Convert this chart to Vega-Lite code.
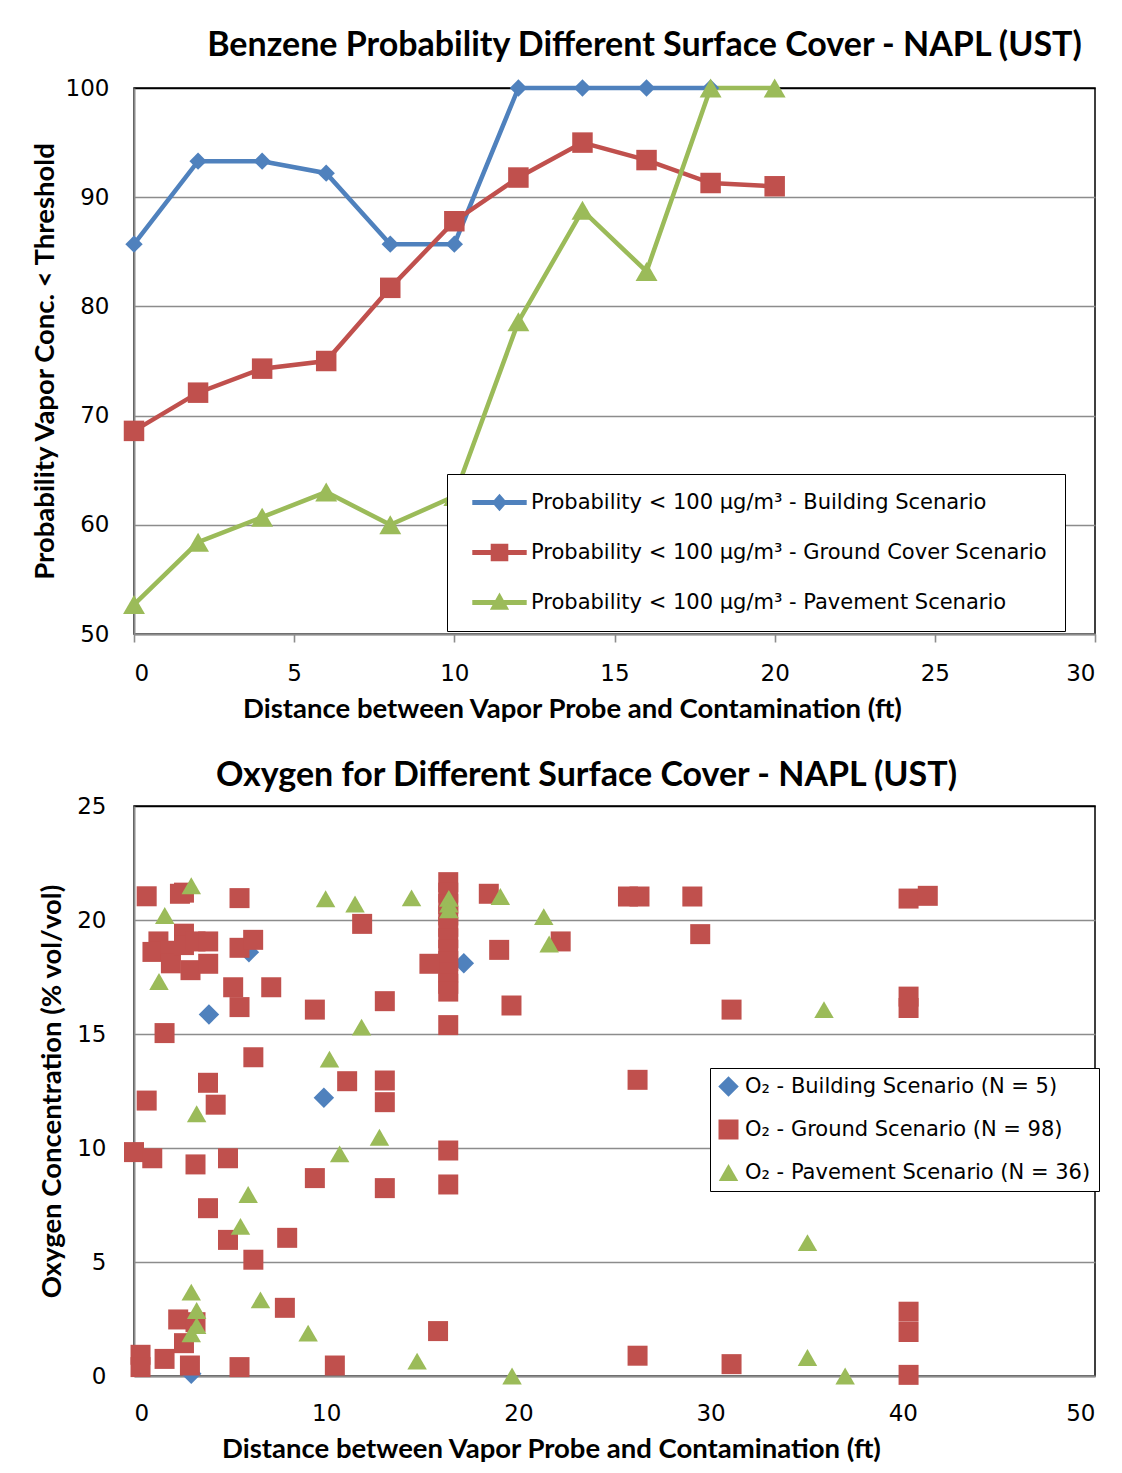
{
  "$schema": "https://vega.github.io/schema/vega-lite/v6.json",
  "background": "white",
  "padding": {"left": 30, "top": 28, "right": 5, "bottom": 5},
  "spacing": 34,
  "resolve": {"scale": {"color": "independent", "shape": "independent", "size": "independent"}},
  "config": {
    "view": {"stroke": "#000", "strokeWidth": 1.5},
    "axis": {
      "labelFont": "DejaVu Sans", "labelFontSize": 23, "labelColor": "#000",
      "titleFont": "Lato", "titleFontSize": 27.5, "titleFontWeight": "bold", "titleColor": "#000",
      "domainColor": "#8c8c8c", "domainWidth": 2,
      "gridColor": "#8c8c8c", "gridWidth": 1.6, "gridOpacity": 1,
      "tickColor": "#8c8c8c", "tickWidth": 1.6
    },
    "axisX": {"grid": false},
    "title": {"font": "Lato", "fontSize": 34, "fontWeight": "bold", "color": "#000", "anchor": "middle"},
    "legend": {"labelFont": "DejaVu Sans", "labelColor": "#000", "fillColor": "white", "strokeColor": "black", "labelLimit": 0, "symbolStrokeWidth": 0}
  },
  "vconcat": [
    {
      "width": 961,
      "height": 546,
      "title": {"text": "Benzene Probability Different Surface Cover - NAPL (UST)", "dx": 30, "offset": 14},
      "data": {"values": [
        {"s": "Probability < 100 µg/m³ - Building Scenario", "d": 0, "p": 85.7},
        {"s": "Probability < 100 µg/m³ - Building Scenario", "d": 2, "p": 93.3},
        {"s": "Probability < 100 µg/m³ - Building Scenario", "d": 4, "p": 93.3},
        {"s": "Probability < 100 µg/m³ - Building Scenario", "d": 6, "p": 92.2},
        {"s": "Probability < 100 µg/m³ - Building Scenario", "d": 8, "p": 85.7},
        {"s": "Probability < 100 µg/m³ - Building Scenario", "d": 10, "p": 85.7},
        {"s": "Probability < 100 µg/m³ - Building Scenario", "d": 12, "p": 100},
        {"s": "Probability < 100 µg/m³ - Building Scenario", "d": 14, "p": 100},
        {"s": "Probability < 100 µg/m³ - Building Scenario", "d": 16, "p": 100},
        {"s": "Probability < 100 µg/m³ - Building Scenario", "d": 18, "p": 100},
        {"s": "Probability < 100 µg/m³ - Ground Cover Scenario", "d": 0, "p": 68.6},
        {"s": "Probability < 100 µg/m³ - Ground Cover Scenario", "d": 2, "p": 72.1},
        {"s": "Probability < 100 µg/m³ - Ground Cover Scenario", "d": 4, "p": 74.3},
        {"s": "Probability < 100 µg/m³ - Ground Cover Scenario", "d": 6, "p": 75.0},
        {"s": "Probability < 100 µg/m³ - Ground Cover Scenario", "d": 8, "p": 81.7},
        {"s": "Probability < 100 µg/m³ - Ground Cover Scenario", "d": 10, "p": 87.8},
        {"s": "Probability < 100 µg/m³ - Ground Cover Scenario", "d": 12, "p": 91.8},
        {"s": "Probability < 100 µg/m³ - Ground Cover Scenario", "d": 14, "p": 95.0},
        {"s": "Probability < 100 µg/m³ - Ground Cover Scenario", "d": 16, "p": 93.4},
        {"s": "Probability < 100 µg/m³ - Ground Cover Scenario", "d": 18, "p": 91.3},
        {"s": "Probability < 100 µg/m³ - Ground Cover Scenario", "d": 20, "p": 91.0},
        {"s": "Probability < 100 µg/m³ -  Pavement Scenario", "d": 0, "p": 52.7},
        {"s": "Probability < 100 µg/m³ -  Pavement Scenario", "d": 2, "p": 58.4},
        {"s": "Probability < 100 µg/m³ -  Pavement Scenario", "d": 4, "p": 60.7},
        {"s": "Probability < 100 µg/m³ -  Pavement Scenario", "d": 6, "p": 63.0},
        {"s": "Probability < 100 µg/m³ -  Pavement Scenario", "d": 8, "p": 60.0},
        {"s": "Probability < 100 µg/m³ -  Pavement Scenario", "d": 10, "p": 62.6},
        {"s": "Probability < 100 µg/m³ -  Pavement Scenario", "d": 12, "p": 78.6},
        {"s": "Probability < 100 µg/m³ -  Pavement Scenario", "d": 14, "p": 88.8},
        {"s": "Probability < 100 µg/m³ -  Pavement Scenario", "d": 16, "p": 83.2},
        {"s": "Probability < 100 µg/m³ -  Pavement Scenario", "d": 18, "p": 100},
        {"s": "Probability < 100 µg/m³ -  Pavement Scenario", "d": 20, "p": 100}
      ]},
      "encoding": {
        "x": {"field": "d", "type": "quantitative", "scale": {"domain": [0, 30], "nice": false},
          "axis": {"values": [0, 5, 10, 15, 20, 25, 30], "title": "Distance between Vapor Probe and Contamination (ft)", "ticks": true, "tickSize": 8, "labelPadding": 20, "titlePadding": 10, "titleX": 438}},
        "y": {"field": "p", "type": "quantitative", "scale": {"domain": [50, 100], "nice": false, "zero": false},
          "axis": {"values": [50, 60, 70, 80, 90, 100], "title": "Probability Vapor Conc. < Threshold", "grid": true, "ticks": false, "labelPadding": 25, "titlePadding": 6,
            "gridColor": {"condition": {"test": "datum.value == 100", "value": "#000000"}, "value": "#8c8c8c"}}}
      },
      "resolve": {"scale": {"color": "independent", "shape": "independent"}},
      "layer": [
        {
          "mark": {"type": "line", "strokeWidth": 4.5},
          "encoding": {"color": {"field": "s", "type": "nominal", "legend": null,
            "scale": {"domain": ["Probability < 100 µg/m³ - Building Scenario", "Probability < 100 µg/m³ - Ground Cover Scenario", "Probability < 100 µg/m³ -  Pavement Scenario"], "range": ["#4F81BD", "#C0504D", "#9BBB59"]}}}
        },
        {
          "transform": [{"filter": {"field": "s", "equal": "Probability < 100 µg/m³ - Building Scenario"}}],
          "mark": {"type": "point", "filled": true, "opacity": 1, "shape": "diamond", "size": 300},
          "encoding": {"color": {"field": "s", "type": "nominal", "legend": null,
            "scale": {"domain": ["Probability < 100 µg/m³ - Building Scenario", "Probability < 100 µg/m³ - Ground Cover Scenario", "Probability < 100 µg/m³ -  Pavement Scenario"], "range": ["#4F81BD", "#C0504D", "#9BBB59"]}}}
        },
        {
          "transform": [{"filter": {"field": "s", "equal": "Probability < 100 µg/m³ - Ground Cover Scenario"}}],
          "mark": {"type": "point", "filled": true, "opacity": 1, "shape": "square", "size": 420},
          "encoding": {"color": {"field": "s", "type": "nominal", "legend": null,
            "scale": {"domain": ["Probability < 100 µg/m³ - Building Scenario", "Probability < 100 µg/m³ - Ground Cover Scenario", "Probability < 100 µg/m³ -  Pavement Scenario"], "range": ["#4F81BD", "#C0504D", "#9BBB59"]}}}
        },
        {
          "transform": [{"filter": {"field": "s", "equal": "Probability < 100 µg/m³ -  Pavement Scenario"}}],
          "mark": {"type": "point", "filled": true, "opacity": 1, "shape": "triangle-up", "size": 480},
          "encoding": {"color": {"field": "s", "type": "nominal", "legend": null,
            "scale": {"domain": ["Probability < 100 µg/m³ - Building Scenario", "Probability < 100 µg/m³ - Ground Cover Scenario", "Probability < 100 µg/m³ -  Pavement Scenario"], "range": ["#4F81BD", "#C0504D", "#9BBB59"]}}}
        },
        {
          "mark": {"type": "point", "filled": true, "opacity": 0},
          "encoding": {
            "color": {"field": "s", "type": "nominal",
              "scale": {"domain": ["Probability < 100 µg/m³ - Building Scenario", "Probability < 100 µg/m³ - Ground Cover Scenario", "Probability < 100 µg/m³ -  Pavement Scenario"], "range": ["#4F81BD", "#C0504D", "#9BBB59"]},
              "legend": {"title": null, "orient": "none", "legendX": 313, "legendY": 386, "padding": 18, "symbolSize": 256, "symbolOpacity": 1, "symbolOffset": 24, "labelOffset": 21, "labelFontSize": 21, "rowPadding": 28}},
            "shape": {"field": "s", "type": "nominal",
              "scale": {"domain": ["Probability < 100 µg/m³ - Building Scenario", "Probability < 100 µg/m³ - Ground Cover Scenario", "Probability < 100 µg/m³ -  Pavement Scenario"],
                "range": [
                  "M-3.4,-0.3L3.4,-0.3L3.4,0.3L-3.4,0.3Z M0,-1.1L0.95,0L0,1.1L-0.95,0Z",
                  "M-3.4,-0.3L3.4,-0.3L3.4,0.3L-3.4,0.3Z M-1.1,-1.1L1.1,-1.1L1.1,1.1L-1.1,1.1Z",
                  "M-3.4,-0.3L3.4,-0.3L3.4,0.3L-3.4,0.3Z M0,-1.25L1.2,0.9L-1.2,0.9Z"
                ]},
              "legend": {"title": null, "orient": "none", "legendX": 313, "legendY": 386, "padding": 18, "symbolSize": 256, "symbolOpacity": 1, "symbolOffset": 24, "labelOffset": 21, "labelFontSize": 21, "rowPadding": 28}}
          }
        }
      ]
    },
    {
      "width": 961,
      "height": 570,
      "title": {"text": "Oxygen for Different Surface Cover - NAPL (UST)", "dx": -28, "offset": 2},
      "data": {"values": [
        {"s": "O₂ - Building Scenario (N = 5)", "d": 3.9, "o": 15.86},
        {"s": "O₂ - Building Scenario (N = 5)", "d": 9.88, "o": 12.2},
        {"s": "O₂ - Building Scenario (N = 5)", "d": 5.98, "o": 18.59},
        {"s": "O₂ - Building Scenario (N = 5)", "d": 17.16, "o": 18.1},
        {"s": "O₂ - Building Scenario (N = 5)", "d": 2.98, "o": 0.1},
        {"s": "O₂ - Ground Scenario (N = 98)", "d": 0.66, "o": 21.04},
        {"s": "O₂ - Ground Scenario (N = 98)", "d": 2.39, "o": 21.15},
        {"s": "O₂ - Ground Scenario (N = 98)", "d": 2.6, "o": 21.2},
        {"s": "O₂ - Ground Scenario (N = 98)", "d": 5.49, "o": 20.96},
        {"s": "O₂ - Ground Scenario (N = 98)", "d": 1.27, "o": 19.06},
        {"s": "O₂ - Ground Scenario (N = 98)", "d": 0.96, "o": 18.6},
        {"s": "O₂ - Ground Scenario (N = 98)", "d": 1.9, "o": 18.65},
        {"s": "O₂ - Ground Scenario (N = 98)", "d": 1.92, "o": 18.1},
        {"s": "O₂ - Ground Scenario (N = 98)", "d": 2.6, "o": 19.4},
        {"s": "O₂ - Ground Scenario (N = 98)", "d": 2.6, "o": 18.9},
        {"s": "O₂ - Ground Scenario (N = 98)", "d": 2.94, "o": 17.8},
        {"s": "O₂ - Ground Scenario (N = 98)", "d": 3.2, "o": 19.06},
        {"s": "O₂ - Ground Scenario (N = 98)", "d": 3.86, "o": 19.06},
        {"s": "O₂ - Ground Scenario (N = 98)", "d": 3.86, "o": 18.08},
        {"s": "O₂ - Ground Scenario (N = 98)", "d": 5.49, "o": 18.78},
        {"s": "O₂ - Ground Scenario (N = 98)", "d": 6.2, "o": 19.13},
        {"s": "O₂ - Ground Scenario (N = 98)", "d": 5.16, "o": 17.05},
        {"s": "O₂ - Ground Scenario (N = 98)", "d": 7.14, "o": 17.05},
        {"s": "O₂ - Ground Scenario (N = 98)", "d": 5.49, "o": 16.18},
        {"s": "O₂ - Ground Scenario (N = 98)", "d": 9.41, "o": 16.07},
        {"s": "O₂ - Ground Scenario (N = 98)", "d": 1.59, "o": 15.04},
        {"s": "O₂ - Ground Scenario (N = 98)", "d": 6.21, "o": 13.98},
        {"s": "O₂ - Ground Scenario (N = 98)", "d": 3.85, "o": 12.86},
        {"s": "O₂ - Ground Scenario (N = 98)", "d": 4.25, "o": 11.9},
        {"s": "O₂ - Ground Scenario (N = 98)", "d": 0.66, "o": 12.08},
        {"s": "O₂ - Ground Scenario (N = 98)", "d": 11.09, "o": 12.93},
        {"s": "O₂ - Ground Scenario (N = 98)", "d": 16.35, "o": 21.66},
        {"s": "O₂ - Ground Scenario (N = 98)", "d": 16.35, "o": 21.2},
        {"s": "O₂ - Ground Scenario (N = 98)", "d": 16.35, "o": 20.7},
        {"s": "O₂ - Ground Scenario (N = 98)", "d": 16.35, "o": 20.2},
        {"s": "O₂ - Ground Scenario (N = 98)", "d": 16.35, "o": 19.7},
        {"s": "O₂ - Ground Scenario (N = 98)", "d": 16.35, "o": 19.2},
        {"s": "O₂ - Ground Scenario (N = 98)", "d": 16.35, "o": 18.7},
        {"s": "O₂ - Ground Scenario (N = 98)", "d": 16.35, "o": 18.2},
        {"s": "O₂ - Ground Scenario (N = 98)", "d": 16.35, "o": 17.7},
        {"s": "O₂ - Ground Scenario (N = 98)", "d": 16.35, "o": 17.2},
        {"s": "O₂ - Ground Scenario (N = 98)", "d": 16.35, "o": 16.86},
        {"s": "O₂ - Ground Scenario (N = 98)", "d": 16.35, "o": 15.39},
        {"s": "O₂ - Ground Scenario (N = 98)", "d": 15.37, "o": 18.08},
        {"s": "O₂ - Ground Scenario (N = 98)", "d": 11.87, "o": 19.83},
        {"s": "O₂ - Ground Scenario (N = 98)", "d": 18.46, "o": 21.15},
        {"s": "O₂ - Ground Scenario (N = 98)", "d": 19.0, "o": 18.69},
        {"s": "O₂ - Ground Scenario (N = 98)", "d": 22.2, "o": 19.06},
        {"s": "O₂ - Ground Scenario (N = 98)", "d": 19.64, "o": 16.25},
        {"s": "O₂ - Ground Scenario (N = 98)", "d": 13.05, "o": 16.44},
        {"s": "O₂ - Ground Scenario (N = 98)", "d": 13.05, "o": 12.96},
        {"s": "O₂ - Ground Scenario (N = 98)", "d": 13.05, "o": 12.01},
        {"s": "O₂ - Ground Scenario (N = 98)", "d": 0, "o": 9.82},
        {"s": "O₂ - Ground Scenario (N = 98)", "d": 0.95, "o": 9.55},
        {"s": "O₂ - Ground Scenario (N = 98)", "d": 3.2, "o": 9.28},
        {"s": "O₂ - Ground Scenario (N = 98)", "d": 4.89, "o": 9.55},
        {"s": "O₂ - Ground Scenario (N = 98)", "d": 9.41, "o": 8.68},
        {"s": "O₂ - Ground Scenario (N = 98)", "d": 3.85, "o": 7.36},
        {"s": "O₂ - Ground Scenario (N = 98)", "d": 4.89, "o": 5.97},
        {"s": "O₂ - Ground Scenario (N = 98)", "d": 7.97, "o": 6.06},
        {"s": "O₂ - Ground Scenario (N = 98)", "d": 6.21, "o": 5.1},
        {"s": "O₂ - Ground Scenario (N = 98)", "d": 7.85, "o": 2.99},
        {"s": "O₂ - Ground Scenario (N = 98)", "d": 2.3, "o": 2.48},
        {"s": "O₂ - Ground Scenario (N = 98)", "d": 3.2, "o": 2.36},
        {"s": "O₂ - Ground Scenario (N = 98)", "d": 2.6, "o": 1.44},
        {"s": "O₂ - Ground Scenario (N = 98)", "d": 0.34, "o": 0.93},
        {"s": "O₂ - Ground Scenario (N = 98)", "d": 0.34, "o": 0.39},
        {"s": "O₂ - Ground Scenario (N = 98)", "d": 1.59, "o": 0.75},
        {"s": "O₂ - Ground Scenario (N = 98)", "d": 2.91, "o": 0.46},
        {"s": "O₂ - Ground Scenario (N = 98)", "d": 5.49, "o": 0.39},
        {"s": "O₂ - Ground Scenario (N = 98)", "d": 10.45, "o": 0.46},
        {"s": "O₂ - Ground Scenario (N = 98)", "d": 16.35, "o": 9.89},
        {"s": "O₂ - Ground Scenario (N = 98)", "d": 16.35, "o": 8.4},
        {"s": "O₂ - Ground Scenario (N = 98)", "d": 13.05, "o": 8.24},
        {"s": "O₂ - Ground Scenario (N = 98)", "d": 15.82, "o": 1.97},
        {"s": "O₂ - Ground Scenario (N = 98)", "d": 25.7, "o": 21.03},
        {"s": "O₂ - Ground Scenario (N = 98)", "d": 26.3, "o": 21.03},
        {"s": "O₂ - Ground Scenario (N = 98)", "d": 29.05, "o": 21.03},
        {"s": "O₂ - Ground Scenario (N = 98)", "d": 29.46, "o": 19.38},
        {"s": "O₂ - Ground Scenario (N = 98)", "d": 31.09, "o": 16.07},
        {"s": "O₂ - Ground Scenario (N = 98)", "d": 26.2, "o": 12.99},
        {"s": "O₂ - Ground Scenario (N = 98)", "d": 40.3, "o": 20.94},
        {"s": "O₂ - Ground Scenario (N = 98)", "d": 41.3, "o": 21.06},
        {"s": "O₂ - Ground Scenario (N = 98)", "d": 40.3, "o": 16.64},
        {"s": "O₂ - Ground Scenario (N = 98)", "d": 40.3, "o": 16.14},
        {"s": "O₂ - Ground Scenario (N = 98)", "d": 26.2, "o": 0.89},
        {"s": "O₂ - Ground Scenario (N = 98)", "d": 31.09, "o": 0.52},
        {"s": "O₂ - Ground Scenario (N = 98)", "d": 40.3, "o": 2.82},
        {"s": "O₂ - Ground Scenario (N = 98)", "d": 40.3, "o": 1.93},
        {"s": "O₂ - Ground Scenario (N = 98)", "d": 40.3, "o": 0.05},
        {"s": "O₂ - Pavement Scenario (N = 36)", "d": 2.98, "o": 21.5},
        {"s": "O₂ - Pavement Scenario (N = 36)", "d": 1.6, "o": 20.2},
        {"s": "O₂ - Pavement Scenario (N = 36)", "d": 1.3, "o": 17.3},
        {"s": "O₂ - Pavement Scenario (N = 36)", "d": 9.97, "o": 20.93},
        {"s": "O₂ - Pavement Scenario (N = 36)", "d": 11.5, "o": 20.7},
        {"s": "O₂ - Pavement Scenario (N = 36)", "d": 10.17, "o": 13.9},
        {"s": "O₂ - Pavement Scenario (N = 36)", "d": 3.26, "o": 11.5},
        {"s": "O₂ - Pavement Scenario (N = 36)", "d": 11.84, "o": 15.3},
        {"s": "O₂ - Pavement Scenario (N = 36)", "d": 14.44, "o": 20.97},
        {"s": "O₂ - Pavement Scenario (N = 36)", "d": 16.38, "o": 20.95},
        {"s": "O₂ - Pavement Scenario (N = 36)", "d": 16.38, "o": 20.7},
        {"s": "O₂ - Pavement Scenario (N = 36)", "d": 16.38, "o": 20.45},
        {"s": "O₂ - Pavement Scenario (N = 36)", "d": 19.06, "o": 21.03},
        {"s": "O₂ - Pavement Scenario (N = 36)", "d": 21.32, "o": 20.15},
        {"s": "O₂ - Pavement Scenario (N = 36)", "d": 21.6, "o": 18.95},
        {"s": "O₂ - Pavement Scenario (N = 36)", "d": 10.7, "o": 9.74},
        {"s": "O₂ - Pavement Scenario (N = 36)", "d": 5.94, "o": 7.96},
        {"s": "O₂ - Pavement Scenario (N = 36)", "d": 5.54, "o": 6.56},
        {"s": "O₂ - Pavement Scenario (N = 36)", "d": 2.98, "o": 3.68},
        {"s": "O₂ - Pavement Scenario (N = 36)", "d": 6.58, "o": 3.34},
        {"s": "O₂ - Pavement Scenario (N = 36)", "d": 3.26, "o": 2.87},
        {"s": "O₂ - Pavement Scenario (N = 36)", "d": 3.26, "o": 2.21},
        {"s": "O₂ - Pavement Scenario (N = 36)", "d": 2.98, "o": 1.85},
        {"s": "O₂ - Pavement Scenario (N = 36)", "d": 9.06, "o": 1.88},
        {"s": "O₂ - Pavement Scenario (N = 36)", "d": 12.77, "o": 10.47},
        {"s": "O₂ - Pavement Scenario (N = 36)", "d": 14.73, "o": 0.65},
        {"s": "O₂ - Pavement Scenario (N = 36)", "d": 19.67, "o": 0},
        {"s": "O₂ - Pavement Scenario (N = 36)", "d": 35.9, "o": 16.07},
        {"s": "O₂ - Pavement Scenario (N = 36)", "d": 35.04, "o": 5.85},
        {"s": "O₂ - Pavement Scenario (N = 36)", "d": 35.04, "o": 0.81},
        {"s": "O₂ - Pavement Scenario (N = 36)", "d": 37.0, "o": 0}
      ]},
      "mark": {"type": "point", "filled": true, "opacity": 1},
      "encoding": {
        "x": {"field": "d", "type": "quantitative", "scale": {"domain": [0, 50], "nice": false},
          "axis": {"values": [0, 10, 20, 30, 40, 50], "title": "Distance between Vapor Probe and Contamination (ft)", "ticks": false, "labelPadding": 26, "titlePadding": 10, "titleX": 417}},
        "y": {"field": "o", "type": "quantitative", "scale": {"domain": [0, 25], "nice": false},
          "axis": {"values": [0, 5, 10, 15, 20, 25], "title": "Oxygen Concentration (% vol/vol)", "grid": true, "ticks": false, "labelPadding": 28, "titlePadding": 10,
            "gridColor": {"condition": {"test": "datum.value == 25", "value": "#000000"}, "value": "#8c8c8c"}}},
        "color": {"field": "s", "type": "nominal",
          "scale": {"domain": ["O₂ - Building Scenario (N = 5)", "O₂ - Ground Scenario (N = 98)", "O₂ - Pavement Scenario (N = 36)"], "range": ["#4F81BD", "#C0504D", "#9BBB59"]},
          "legend": {"title": null, "orient": "none", "legendX": 576, "legendY": 262, "padding": 8, "symbolSize": 200, "labelOffset": 6, "labelFontSize": 21, "rowPadding": 21}},
        "shape": {"field": "s", "type": "nominal",
          "scale": {"domain": ["O₂ - Building Scenario (N = 5)", "O₂ - Ground Scenario (N = 98)", "O₂ - Pavement Scenario (N = 36)"], "range": ["diamond", "square", "triangle-up"]},
          "legend": {"title": null, "orient": "none", "legendX": 576, "legendY": 262, "padding": 8, "symbolSize": 200, "labelOffset": 6, "labelFontSize": 21, "rowPadding": 21}},
        "size": {"field": "s", "type": "nominal", "legend": null,
          "scale": {"domain": ["O₂ - Building Scenario (N = 5)", "O₂ - Ground Scenario (N = 98)", "O₂ - Pavement Scenario (N = 36)"], "range": [420, 380, 440]}}
      }
    }
  ]
}
